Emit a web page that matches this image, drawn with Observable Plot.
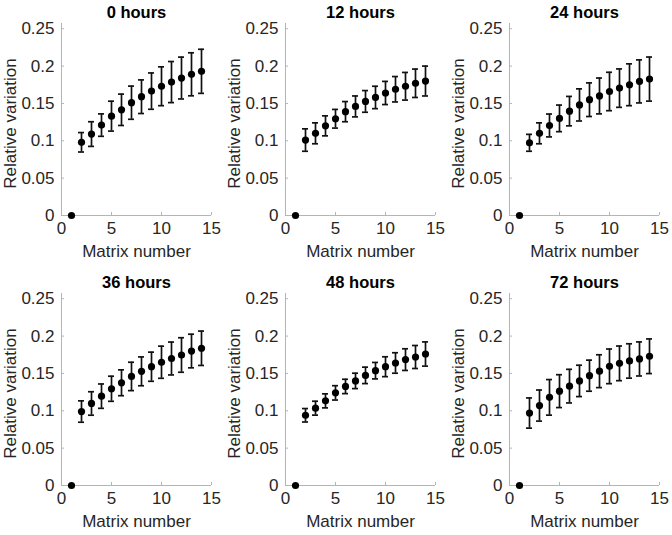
<!DOCTYPE html>
<html>
<head>
<meta charset="utf-8">
<script src="https://cdn.jsdelivr.net/npm/d3@7"></script>
<script src="https://cdn.jsdelivr.net/npm/@observablehq/plot@0.6"></script>
<style>
  html, body { margin: 0; padding: 0; background: white; }
  #chart { position: relative; width: 672px; height: 535px; background: white; overflow: hidden; }
  #chart > div { position: absolute; }
</style>
</head>
<body>
<div id="chart"></div>
<script>
const titles = ["0 hours", "12 hours", "24 hours", "36 hours", "48 hours", "72 hours"];
const matrixNumber = [1, 2, 3, 4, 5, 6, 7, 8, 9, 10, 11, 12, 13, 14];
const xTicks = [0, 5, 10, 15];
const yTicks = [0, 0.05, 0.1, 0.15, 0.2, 0.25];

const mean0h  = [0, 0.098, 0.109, 0.121, 0.133, 0.1415, 0.151, 0.159, 0.1665, 0.173, 0.1786, 0.184, 0.189, 0.193];
const err0h   = [0, 0.013, 0.0165, 0.015, 0.020, 0.021, 0.0222, 0.0225, 0.0243, 0.026, 0.0275, 0.028, 0.0288, 0.0295];
const mean12h = [0, 0.101, 0.110, 0.120, 0.1295, 0.139, 0.146, 0.1527, 0.158, 0.164, 0.169, 0.173, 0.177, 0.180];
const err12h  = [0, 0.015, 0.014, 0.0134, 0.0125, 0.0135, 0.014, 0.0145, 0.015, 0.0155, 0.017, 0.0185, 0.019, 0.020];
const mean24h = [0, 0.0973, 0.110, 0.1205, 0.130, 0.1397, 0.148, 0.155, 0.160, 0.166, 0.1705, 0.175, 0.1795, 0.1826];
const err24h  = [0, 0.0113, 0.014, 0.0153, 0.0178, 0.0197, 0.0215, 0.0225, 0.024, 0.0257, 0.0257, 0.028, 0.0288, 0.0295];
const mean36h = [0, 0.099, 0.1098, 0.1196, 0.1295, 0.1375, 0.146, 0.1528, 0.159, 0.165, 0.170, 0.1747, 0.180, 0.1837];
const err36h  = [0, 0.0143, 0.0157, 0.0163, 0.0168, 0.0173, 0.019, 0.0193, 0.0195, 0.0215, 0.022, 0.0231, 0.0225, 0.023];
const mean48h = [0, 0.094, 0.1035, 0.1133, 0.124, 0.1326, 0.140, 0.1474, 0.1537, 0.159, 0.164, 0.1685, 0.172, 0.176];
const err48h  = [0, 0.009, 0.0093, 0.0094, 0.0096, 0.0096, 0.0103, 0.011, 0.011, 0.0133, 0.0137, 0.0145, 0.0154, 0.0162];
const mean72h = [0, 0.097, 0.107, 0.118, 0.1263, 0.133, 0.140, 0.147, 0.153, 0.1595, 0.1635, 0.1667, 0.1694, 0.173];
const err72h  = [0, 0.0202, 0.0208, 0.0238, 0.022, 0.0225, 0.021, 0.0208, 0.022, 0.0232, 0.0232, 0.023, 0.0228, 0.0232];

const means = [mean0h, mean12h, mean24h, mean36h, mean48h, mean72h];
const errs = [err0h, err12h, err24h, err36h, err48h, err72h];

const axisColor = "#b4b4b4";
const textColor = "#262626";
const fontFamily = "'Liberation Sans', Arial, Helvetica, sans-serif";

const W = 224, H = 270;
const chart = document.getElementById("chart");

titles.forEach((title, i) => {
  const data = matrixNumber.map((x, j) => ({x, y: means[i][j], e: errs[i][j]}));
  const withErr = data.filter(d => d.e > 0);
  const p = Plot.plot({
    width: W,
    height: H,
    marginLeft: 61,
    marginRight: 13,
    marginTop: 23,
    marginBottom: 55,
    x: {domain: [0, 15]},
    y: {domain: [0, 0.257]},
    style: {fontFamily, fontSize: "17px", color: textColor, background: "white", overflow: "visible"},
    marks: [
      Plot.ruleY([0], {stroke: axisColor, strokeWidth: 1}),
      Plot.ruleX([0], {stroke: axisColor, strokeWidth: 1}),
      Plot.tickX(xTicks, {x: d => d, stroke: axisColor, insetTop: 189}),
      Plot.tickY(yTicks, {y: d => d, stroke: axisColor, insetRight: 147}),
      Plot.axisX({ticks: xTicks, tickSize: 0, tickPadding: 6, fontSize: 17, fill: textColor, label: null}),
      Plot.axisY({ticks: yTicks, tickSize: 0, tickPadding: 7, fontSize: 17, fill: textColor, label: null,
                  tickFormat: d => String(+d.toFixed(2))}),
      Plot.ruleX(withErr, {x: "x", y1: d => d.y - d.e, y2: d => d.y + d.e, stroke: "#111", strokeWidth: 1.7}),
      Plot.ruleY(withErr, {y: d => d.y - d.e, x1: d => d.x - 0.3, x2: d => d.x + 0.3, stroke: "#111", strokeWidth: 1.7}),
      Plot.ruleY(withErr, {y: d => d.y + d.e, x1: d => d.x - 0.3, x2: d => d.x + 0.3, stroke: "#111", strokeWidth: 1.7}),
      Plot.dot(data, {x: "x", y: "y", r: 3.6, fill: "black", stroke: "none"}),
      Plot.text([title], {frameAnchor: "top", lineAnchor: "middle", textAnchor: "middle", dy: -11, fontWeight: "bold", fontSize: 16.5, fill: "black"}),
      Plot.text(["Matrix number"], {frameAnchor: "bottom", lineAnchor: "middle", textAnchor: "middle", dy: 36, fontSize: 17, fill: textColor}),
      Plot.text(["Relative variation"], {frameAnchor: "left", lineAnchor: "middle", textAnchor: "middle", dx: -51, dy: 4, rotate: -90, fontSize: 17, fill: textColor})
    ]
  });
  const wrap = document.createElement("div");
  wrap.style.left = ((i % 3) * W) + "px";
  wrap.style.top = (Math.floor(i / 3) * H) + "px";
  wrap.appendChild(p);
  chart.appendChild(wrap);
});
</script>
</body>
</html>
